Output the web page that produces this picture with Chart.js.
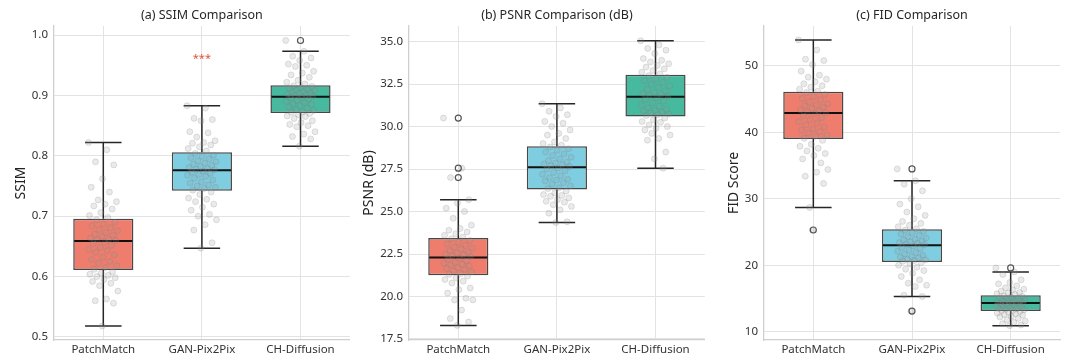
<!DOCTYPE html>
<html>
<head>
<meta charset="utf-8">
<script src="https://cdn.jsdelivr.net/npm/chart.js@4.4.1/dist/chart.umd.min.js"></script>
<style>
  body { margin: 0; background: #fff; }
  #wrap { position: relative; width: 1067px; height: 363px; }
  canvas { position: absolute; top: 0; }
</style>
</head>
<body>
<div id="wrap">
  <canvas id="ssim" width="355" height="363" style="left:0px"></canvas>
  <canvas id="psnr" width="355" height="363" style="left:355px"></canvas>
  <canvas id="fid" width="357" height="363" style="left:710px"></canvas>
</div>
<script>
const categories = ['PatchMatch', 'GAN-Pix2Pix', 'CH-Diffusion'];
const boxColors = ['#ef7d6d', '#7ecde1', '#46b99f'];

// SSIM box stats
const ssimLow = [0.518, 0.647, 0.816];
const ssimQ1 = [0.611, 0.742, 0.871];
const ssimMed = [0.659, 0.776, 0.898];
const ssimQ3 = [0.696, 0.806, 0.917];
const ssimHigh = [0.822, 0.883, 0.973];
const ssimFliers = [[], [], [0.991]];
const ssimTicks = [0.5, 0.6, 0.7, 0.8, 0.9, 1.0];
const ssimPM = [0.822, 0.810, 0.790, 0.785, 0.762, 0.748, 0.740, 0.727, 0.724, 0.720, 0.717, 0.712, 0.706, 0.701, 0.698,
  0.694, 0.690, 0.687, 0.684, 0.681, 0.678, 0.676, 0.673, 0.670, 0.668, 0.666, 0.664, 0.662, 0.661, 0.660,
  0.657, 0.655, 0.652, 0.648, 0.645, 0.643, 0.640, 0.636, 0.632, 0.628, 0.625, 0.622, 0.618, 0.615, 0.612,
  0.608, 0.606, 0.604, 0.602, 0.600, 0.598, 0.595, 0.592, 0.589, 0.585, 0.576, 0.563, 0.560, 0.556, 0.518];
const ssimGAN = [0.883, 0.879, 0.862, 0.860, 0.858, 0.840, 0.838, 0.831, 0.825, 0.822, 0.821, 0.818, 0.815, 0.812, 0.808,
  0.804, 0.801, 0.799, 0.797, 0.795, 0.792, 0.790, 0.788, 0.786, 0.784, 0.782, 0.781, 0.779, 0.778, 0.777,
  0.775, 0.773, 0.771, 0.769, 0.768, 0.766, 0.763, 0.760, 0.757, 0.755, 0.752, 0.750, 0.748, 0.746, 0.743,
  0.740, 0.736, 0.730, 0.728, 0.724, 0.720, 0.715, 0.710, 0.703, 0.700, 0.694, 0.686, 0.677, 0.656, 0.647];
const ssimCH = [0.991, 0.973, 0.965, 0.962, 0.958, 0.952, 0.950, 0.948, 0.940, 0.937, 0.934, 0.930, 0.925, 0.922, 0.919,
  0.916, 0.915, 0.913, 0.912, 0.910, 0.909, 0.908, 0.906, 0.905, 0.904, 0.903, 0.902, 0.901, 0.900, 0.899,
  0.897, 0.896, 0.894, 0.892, 0.890, 0.888, 0.886, 0.885, 0.883, 0.881, 0.879, 0.877, 0.875, 0.873, 0.872,
  0.870, 0.868, 0.866, 0.865, 0.862, 0.858, 0.855, 0.852, 0.850, 0.848, 0.840, 0.836, 0.832, 0.828, 0.816];
const ssimSigText = ['', '***', ''];
const ssimSigY = [null, 0.965, null];

// PSNR box stats
const psnrLow = [18.3, 24.35, 27.55];
const psnrQ1 = [21.25, 26.3, 30.6];
const psnrMed = [22.3, 27.6, 31.75];
const psnrQ3 = [23.45, 28.85, 33.05];
const psnrHigh = [25.7, 31.35, 35.05];
const psnrFliers = [[30.5, 27.55, 27.0], [], []];
const psnrTicks = [17.5, 20.0, 22.5, 25.0, 27.5, 30.0, 32.5, 35.0];
const psnrPM = [30.5, 27.55, 27.0, 25.7, 25.5, 25.2, 25.0, 24.6, 24.2, 24.0, 23.9, 23.8, 23.7, 23.6, 23.5,
  23.4, 23.3, 23.2, 23.1, 23.0, 22.9, 22.85, 22.8, 22.7, 22.6, 22.55, 22.5, 22.45, 22.4, 22.35,
  22.25, 22.2, 22.1, 22.0, 21.95, 21.9, 21.85, 21.8, 21.7, 21.65, 21.6, 21.5, 21.45, 21.35, 21.3,
  21.2, 21.1, 21.0, 20.9, 20.8, 20.5, 20.4, 20.2, 19.9, 19.8, 19.8, 19.2, 18.7, 18.5, 18.3];
const psnrGAN = [31.35, 31.1, 30.9, 30.7, 30.6, 30.3, 30.2, 30.0, 29.8, 29.6, 29.5, 29.3, 29.1, 29.0, 28.9,
  28.8, 28.7, 28.6, 28.5, 28.4, 28.3, 28.2, 28.1, 28.0, 27.9, 27.85, 27.8, 27.75, 27.7, 27.65,
  27.55, 27.5, 27.4, 27.3, 27.2, 27.1, 27.0, 26.9, 26.85, 26.8, 26.7, 26.6, 26.5, 26.4, 26.35,
  26.2, 26.1, 26.0, 25.95, 25.9, 25.8, 25.7, 25.6, 25.55, 25.4, 25.3, 25.1, 24.9, 24.4, 24.35];
const psnrCH = [35.05, 34.8, 34.6, 34.5, 34.3, 34.0, 33.9, 33.8, 33.7, 33.6, 33.5, 33.4, 33.3, 33.2, 33.1,
  33.0, 32.9, 32.8, 32.7, 32.6, 32.5, 32.4, 32.3, 32.2, 32.1, 32.0, 31.95, 31.9, 31.85, 31.8,
  31.7, 31.6, 31.5, 31.4, 31.3, 31.2, 31.1, 31.0, 30.95, 30.9, 30.85, 30.8, 30.75, 30.7, 30.65,
  30.5, 30.4, 30.3, 30.25, 30.1, 30.0, 29.9, 29.8, 27.55, 29.6, 29.5, 29.3, 29.2, 28.5, 28.1];

// FID box stats
const fidLow = [28.7, 15.3, 10.9];
const fidQ1 = [39.0, 20.5, 13.1];
const fidMed = [42.9, 23.0, 14.3];
const fidQ3 = [46.1, 25.4, 15.5];
const fidHigh = [53.9, 32.7, 19.0];
const fidFliers = [[25.3], [34.5, 13.1], [19.6]];
const fidTicks = [10, 20, 30, 40, 50];
const fidPM = [53.9, 52.4, 51.0, 50.8, 50.2, 49.2, 48.6, 48.3, 48.0, 47.6, 47.3, 47.0, 46.8, 46.5, 46.2,
  46.0, 45.7, 45.4, 45.1, 44.9, 44.6, 44.3, 44.1, 44.0, 43.8, 43.6, 43.4, 43.2, 43.1, 43.0,
  42.8, 42.5, 42.2, 41.9, 41.6, 41.4, 41.1, 40.8, 40.5, 40.3, 40.1, 39.9, 39.6, 39.4, 39.1,
  38.8, 38.2, 37.9, 37.6, 37.2, 36.8, 36.5, 36.0, 35.4, 28.7, 34.4, 34.0, 33.4, 32.3, 25.3];
const fidGAN = [34.5, 32.7, 32.2, 31.2, 30.0, 29.2, 28.8, 28.0, 27.5, 27.0, 26.6, 26.3, 26.0, 25.8, 25.5,
  25.3, 25.1, 24.9, 24.7, 24.5, 24.3, 24.1, 23.9, 23.8, 23.6, 23.5, 23.4, 23.3, 23.2, 23.1,
  22.9, 22.7, 22.5, 22.3, 22.1, 21.9, 21.7, 21.5, 21.3, 21.2, 21.1, 20.9, 20.8, 20.7, 20.6,
  20.4, 20.2, 20.0, 19.7, 19.4, 19.2, 18.8, 18.3, 17.8, 17.3, 17.0, 16.8, 15.5, 15.3, 13.1];
const fidCH = [19.6, 19.0, 18.6, 17.8, 17.4, 17.2, 16.9, 16.6, 16.4, 16.3, 16.1, 15.9, 15.8, 15.7, 15.6,
  15.4, 15.3, 15.2, 15.1, 15.0, 14.9, 14.8, 14.7, 14.65, 14.6, 14.55, 14.5, 14.45, 14.4, 14.35,
  14.25, 14.2, 14.1, 14.0, 13.9, 13.8, 13.75, 13.7, 13.6, 13.5, 13.45, 13.4, 13.3, 13.2, 13.15,
  13.0, 12.9, 12.8, 12.7, 12.6, 12.5, 12.3, 12.2, 12.0, 11.8, 11.6, 11.4, 11.2, 11.0, 10.9];

const FONT = '"Noto Sans", sans-serif';
const BOX_HALF = 0.305;
const CAP_HALF = 0.185;

// deterministic strip spread (golden-ratio sequence)
function jitter(j) {
  return (((j * 0.6180339887) % 1) - 0.5) * 0.3;
}

const boxParts = {
  id: 'boxParts',
  beforeDatasetsDraw(chart, args, o) {
    const { ctx, scales: { x, y } } = chart;
    ctx.save();
    ctx.strokeStyle = '#262626';
    ctx.lineWidth = 1.5;
    categories.forEach((c, i) => {
      const cx = x.getPixelForValue(i);
      ctx.beginPath();
      ctx.moveTo(cx, y.getPixelForValue(o.low[i]));
      ctx.lineTo(cx, y.getPixelForValue(o.q1[i]));
      ctx.moveTo(cx, y.getPixelForValue(o.q3[i]));
      ctx.lineTo(cx, y.getPixelForValue(o.high[i]));
      [o.low[i], o.high[i]].forEach(v => {
        const py = y.getPixelForValue(v);
        ctx.moveTo(x.getPixelForValue(i - CAP_HALF), py);
        ctx.lineTo(x.getPixelForValue(i + CAP_HALF), py);
      });
      ctx.stroke();
    });
    ctx.restore();
  },
  afterDatasetDraw(chart, args, o) {
    if (args.index !== 0) return;
    const { ctx, scales: { x, y } } = chart;
    ctx.save();
    ctx.strokeStyle = '#111';
    ctx.lineWidth = 2;
    o.med.forEach((m, i) => {
      const py = y.getPixelForValue(m);
      ctx.beginPath();
      ctx.moveTo(x.getPixelForValue(i - BOX_HALF) + 1, py);
      ctx.lineTo(x.getPixelForValue(i + BOX_HALF) - 1, py);
      ctx.stroke();
    });
    ctx.restore();
  },
  afterDatasetsDraw(chart, args, o) {
    if (!o.sigText) return;
    const { ctx, scales: { x, y } } = chart;
    ctx.save();
    ctx.fillStyle = '#e0553f';
    ctx.font = '11px ' + FONT;
    ctx.textAlign = 'center';
    ctx.textBaseline = 'middle';
    o.sigText.forEach((t, i) => {
      if (!t) return;
      ctx.fillText(t, x.getPixelForValue(i), y.getPixelForValue(o.sigY[i]) + 3);
    });
    ctx.restore();
  }
};

function makeChart(id, p) {
  const groups = p.points;
  new Chart(document.getElementById(id), {
    data: {
      datasets: [{
        type: 'bar',
        data: categories.map((c, i) => ({ x: i, y: [p.q1[i], p.q3[i]] })),
        backgroundColor: boxColors,
        borderColor: '#474747',
        borderWidth: 1.5,
        borderSkipped: false,
        barPercentage: 0.61,
        categoryPercentage: 1,
        order: 3
      }, {
        type: 'scatter',
        data: groups.flatMap((vals, i) => vals.map((v, j) => ({ x: i + jitter(j), y: v }))),
        pointRadius: 3,
        backgroundColor: 'rgba(150,150,150,0.2)',
        borderColor: 'rgba(120,120,120,0.25)',
        borderWidth: 0.8,
        order: 1
      }, {
        type: 'scatter',
        data: p.fliers.flatMap((vals, i) => vals.map(v => ({ x: i, y: v }))),
        pointRadius: 3,
        backgroundColor: 'rgba(0,0,0,0)',
        borderColor: '#555',
        borderWidth: 1.2,
        order: 0
      }]
    },
    options: {
      responsive: false,
      animation: false,
      events: [],
      layout: { padding: { left: 0, right: p.padRight, top: 0, bottom: 0 } },
      scales: {
        x: {
          type: 'linear',
          offset: false,
          min: -0.5,
          max: 2.5,
          afterBuildTicks: s => { s.ticks = categories.map((c, i) => ({ value: i })); },
          afterFit: s => { s.height = 23; },
          ticks: {
            callback: v => categories[v],
            color: '#333',
            padding: 3,
            autoSkip: false,
            maxRotation: 0,
            font: { family: FONT, size: 11.5 }
          },
          grid: { color: '#e3e3e3', lineWidth: 1, drawTicks: false, offset: false },
          border: { color: '#cfcfcf', width: 1.3 }
        },
        y: {
          type: 'linear',
          min: p.yMin,
          max: p.yMax,
          afterBuildTicks: s => { s.ticks = p.ticks.map(v => ({ value: v })); },
          afterFit: s => { s.width = 54; },
          ticks: {
            callback: v => v.toFixed(p.decimals),
            color: '#333',
            padding: 6,
            font: { family: FONT, size: 11.5 }
          },
          grid: { color: '#e3e3e3', lineWidth: 1, drawTicks: false },
          border: { color: '#cfcfcf', width: 1.3 },
          title: {
            display: true,
            text: p.yTitle,
            color: '#222',
            padding: { top: p.yTitlePad, bottom: 0 },
            font: { family: FONT, size: 14 }
          }
        }
      },
      plugins: {
        legend: { display: false },
        tooltip: { enabled: false },
        title: {
          display: true,
          text: p.title,
          fullSize: false,
          color: '#262626',
          padding: { top: 8, bottom: 3 },
          font: { family: FONT, size: 12.5, weight: 'normal' }
        },
        boxParts: {
          low: p.low, q1: p.q1, med: p.med, q3: p.q3, high: p.high,
          sigText: p.sigText, sigY: p.sigY
        }
      }
    },
    plugins: [boxParts]
  });
}

makeChart('ssim', {
  title: '(a) SSIM Comparison', yTitle: 'SSIM', yTitlePad: 13,
  yMin: 0.495, yMax: 1.015, ticks: ssimTicks, decimals: 1, padRight: 5,
  low: ssimLow, q1: ssimQ1, med: ssimMed, q3: ssimQ3, high: ssimHigh,
  fliers: ssimFliers, points: [ssimPM, ssimGAN, ssimCH],
  sigText: ssimSigText, sigY: ssimSigY
});
makeChart('psnr', {
  title: '(b) PSNR Comparison (dB)', yTitle: 'PSNR (dB)', yTitlePad: 6,
  yMin: 17.44, yMax: 35.92, ticks: psnrTicks, decimals: 1, padRight: 5,
  low: psnrLow, q1: psnrQ1, med: psnrMed, q3: psnrQ3, high: psnrHigh,
  fliers: psnrFliers, points: [psnrPM, psnrGAN, psnrCH]
});
makeChart('fid', {
  title: '(c) FID Comparison', yTitle: 'FID Score', yTitlePad: 16,
  yMin: 8.75, yMax: 56.0, ticks: fidTicks, decimals: 0, padRight: 7,
  low: fidLow, q1: fidQ1, med: fidMed, q3: fidQ3, high: fidHigh,
  fliers: fidFliers, points: [fidPM, fidGAN, fidCH]
});
</script>
</body>
</html>
